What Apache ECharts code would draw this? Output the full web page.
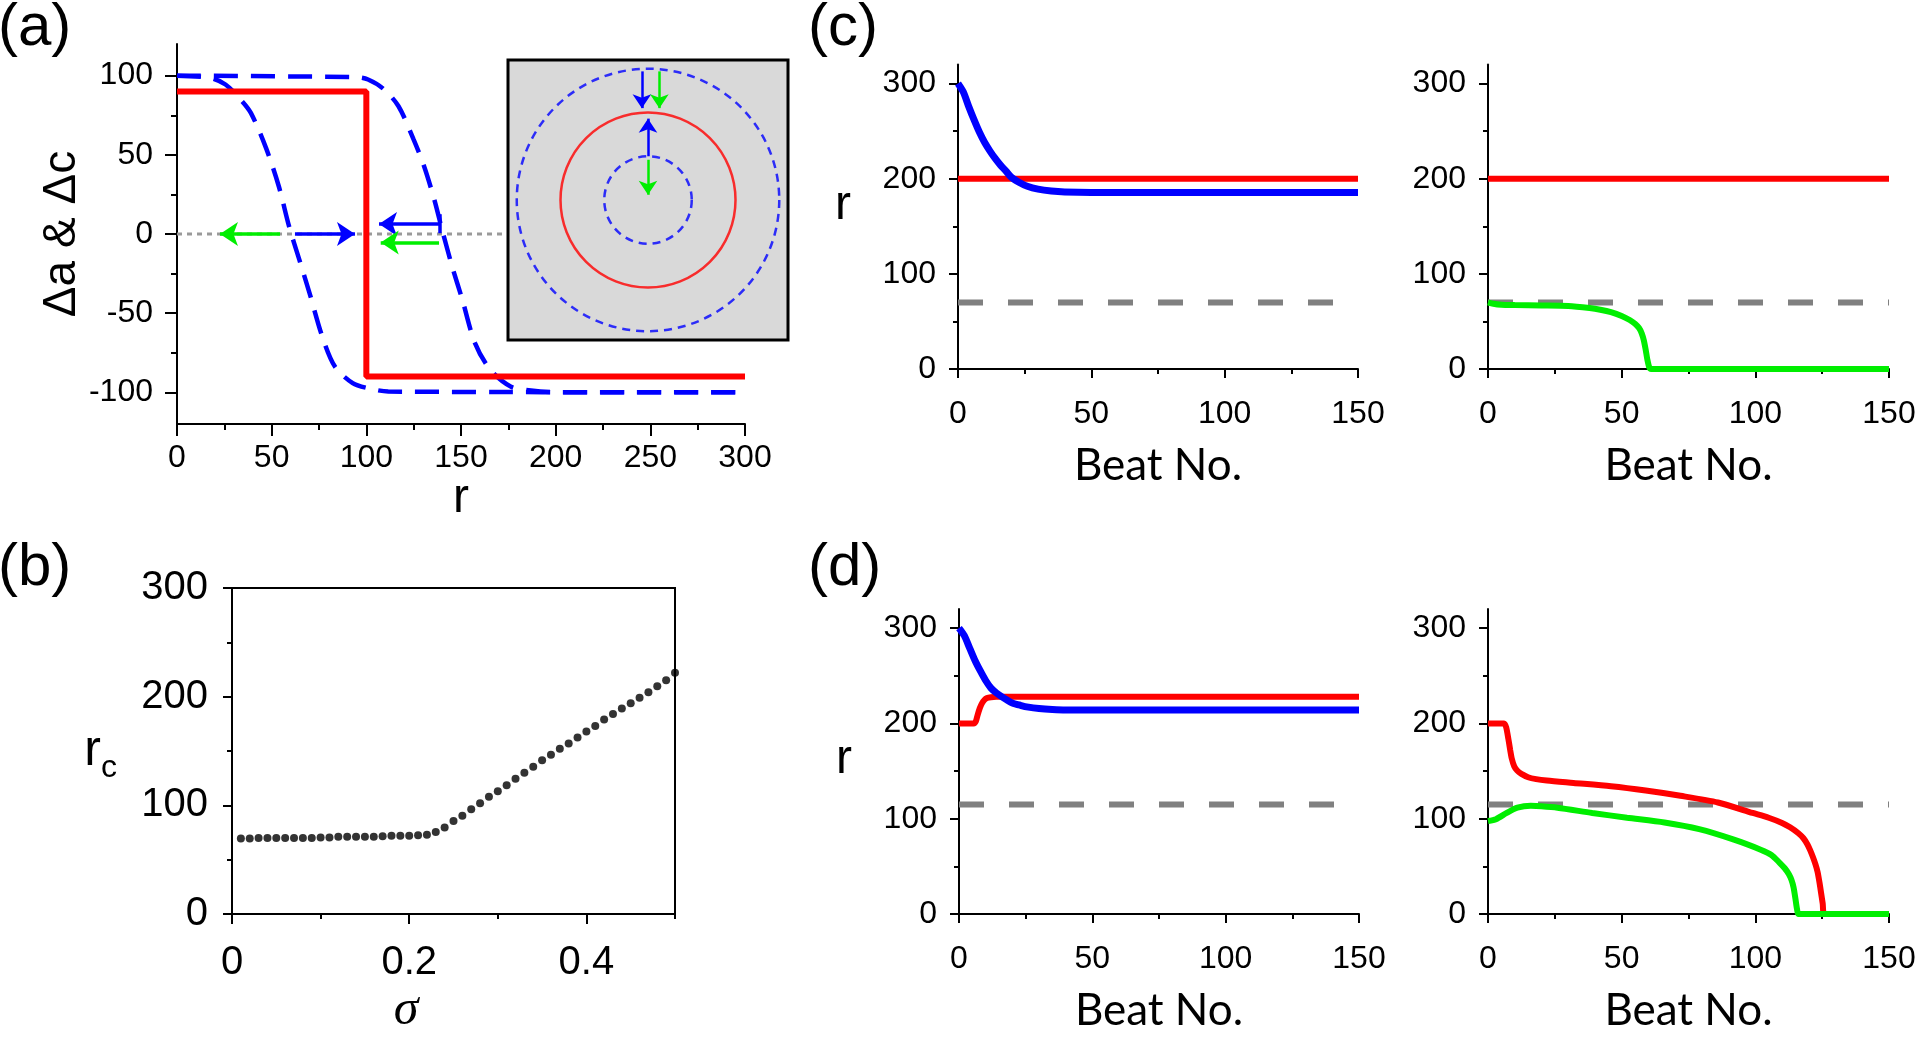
<!DOCTYPE html>
<html><head><meta charset="utf-8">
<script src="https://cdn.jsdelivr.net/npm/echarts@6/dist/echarts.min.js"></script>
<style>html,body{margin:0;padding:0;background:#fff}#c{width:1920px;height:1037px}</style>
</head><body><div id="c"></div>
<script>
// ================= DATA =================
// ---- (a) profiles vs r ----
const aRedR = [0, 100, 100, 300];
const aRedV = [90, 90, -90, -90];
const aInnerR = [0, 17.5, 25.6, 33.6, 39, 47, 53.8, 59.2, 64.6, 70, 76.7, 83.4, 92.8, 100.9, 111.6, 300];
const aInnerV = [100, 98.6, 94.4, 84.9, 76.5, 54.4, 30, 4.8, -16.2, -37.3, -64.7, -83.7, -94.2, -97.4, -99.5, -100];
const aOuterR = [0, 95, 100.9, 109, 117, 125, 130.5, 135.9, 140, 145.3, 150.7, 157.4, 165.5, 176.2, 187, 203, 300];
const aOuterV = [100, 99, 97.6, 91.7, 80.7, 59.6, 42.8, 21.7, 2.7, -20.4, -41.5, -68.9, -85.8, -96.3, -98.8, -100, -100];
const aZeroR = [0, 300];
const aZeroV = [0, 0];
const aXLabels = [0, 50, 100, 150, 200, 250, 300];
const aXMinor = [25, 75, 125, 175, 225, 275];
const aYLabels = [-100, -50, 0, 50, 100];
const aYMinor = [-75, -25, 25, 75];
// arrows on the zero line (start r, end r, level)
const aArrowR0 = [54.4, 62.3, 138.9, 138.4];
const aArrowR1 = [22.7, 94, 106.7, 107.6];
const aArrowV = [0, 0, 6.3, -5.3];
const aArrowKind = ['green', 'blue', 'blue', 'green'];
const aCapR = 138.9;
const aCapV = [0.5, 12.5];
// inset: circle radii (same units as r) and arrows
const insetRadii = [50, 100, 150];
const insetKind = ['blueDash', 'red', 'blueDash'];
const insArrowX = [-7, 13, 0, 0];
const insArrowY0 = [147, 147, 50, 46];
const insArrowY1 = [105, 105, 93, 6];
const insArrowKind = ['blue', 'green', 'blue', 'green'];

// ---- (b) r_c vs sigma ----
const bSigma = [0.01,0.02,0.03,0.04,0.05,0.06,0.07,0.08,0.09,0.10,0.11,0.12,0.13,0.14,0.15,0.16,0.17,0.18,0.19,0.20,0.21,0.22,0.23,0.24,0.25,0.26,0.27,0.28,0.29,0.30,0.31,0.32,0.33,0.34,0.35,0.36,0.37,0.38,0.39,0.40,0.41,0.42,0.43,0.44,0.45,0.46,0.47,0.48,0.49,0.50];
const bRc = [69.5,69.5,70,70,70,70,70,70,70,70.5,70.5,71,71,71,71,71,71.5,72,72,72,72.5,73,75.5,79.5,85.5,90.5,96.5,102,108,113,118.5,124.5,130,135.5,141.5,146.5,152,157,162.5,168,173,179,184,189,194,199,204,209.5,215,222];
const bXLabels = [0, 0.2, 0.4];
const bXMinor = [0.1, 0.3, 0.5];
const bYLabels = [0, 100, 200, 300];
const bYMinor = [50, 150, 250];

// ---- (c) left ----
const cLBeat = [0,2,4,6,8,10,12,14,16,18,20,23,26,30,35,40,50,70,100,150];
const cLBlue = [300,291,276,262,249,238,229,221,214,208,201.5,196,192,189,187,186,185.5,185.5,185.5,185.5];
const cLRedBeat = [0, 150];
const cLRed = [200, 200];
// ---- (c) right ----
const cRRedBeat = [0, 150];
const cRRed = [200, 200];
const cRBeat = [0,2,5,10,20,30,38,42,46,50,53,55,56.5,57.5,58.3,59,59.6,60.3,61,150];
const cRGreen = [70,68.5,67.5,67.2,66.8,66.2,64,62.3,59.8,55.8,51.5,47.5,43,37.5,30,20,10,2,0,0];
const cThresholdBeat = [0, 150];
const cThreshold = [70, 70];

// ---- (d) left ----
const dLBeat = [0,2,4,6,8,10,12,14,16,18,20,23,26,30,35,40,50,70,100,150];
const dLBlue = [300,292,279,266,255,245,237,232,228,224.5,221.5,219,217,215.5,214.5,214,214,214,214,214];
const dLRedBeat = [0,5.5,6.3,7,7.8,8.6,9.5,10.5,12,14,150];
const dLRed = [200,200,202,209,216,221,224.5,226.5,227.5,228,228];
// ---- (d) right ----
const dRRedBeat = [0,6,6.8,7.6,8.3,8.9,9.8,10.9,12.5,15,18,22,32,46,59,72,86,99,105,110,113,116,118,119.5,120.5,121.5,122.5,123.3,124,124.6,125.2,125.8,150];
const dRRed = [200,200,196,184,172,163,155,150.5,147,143.5,141.5,140,137.5,134,129.5,124,117,106,101,95.5,91,85,79.5,73,67,60,52,44,33,22,11,0,0];
const dRGreenBeat = [0,3,7,11,16,20,26,39,52,66,79,92,102,106,109,111,112.5,113.5,114.3,115,115.6,116.2,150];
const dRGreen = [97.5,99.5,106,111.5,113.5,113,111.5,106,101,96,89,78,67.5,62,54,48,42,36,28,16,5,0,0];
const dThresholdBeat = [0, 150];
const dThreshold = [115, 115];

const beatLabels = [0, 50, 100, 150];
const beatMinor = [25, 75, 125];
const rLabels = [0, 100, 200, 300];
const rMinor = [50, 150, 250];

// ================= STYLE / BUILD =================
const FONT = '"Liberation Sans", Arial, Helvetica, sans-serif';
const COLORS = {blue: '#0000ff', red: '#ff0000', green: '#00ee00', gray: '#808080', blueDash: '#0000ff'};
const zip = (xs, ys) => xs.map((x, i) => [x, ys[i]]);

const xAxes = [], yAxes = [];
function addAxis(list, grid, pos, c) {
  const tickStyle = {color: '#000', width: 2};
  list.push({
    type: 'value', gridIndex: grid, position: pos, min: c.min, max: c.max,
    splitLine: {show: false},
    axisLine: {show: true, onZero: false, lineStyle: {color: '#000', width: 2}},
    axisTick: {show: true, customValues: c.ticks, length: c.majLen, lineStyle: tickStyle},
    axisLabel: {show: true, customValues: c.ticks, margin: c.margin, color: '#000', fontSize: c.fontSize, fontFamily: FONT},
    name: c.name, nameLocation: 'middle', nameGap: c.nameGap,
    nameRotate: c.nameRotate, nameTextStyle: c.nameStyle, silent: true
  });
  const idx = list.length - 1;
  if (c.minor) list.push({
    type: 'value', gridIndex: grid, position: pos, min: c.min, max: c.max,
    splitLine: {show: false}, axisLine: {show: false, onZero: false},
    axisTick: {show: true, customValues: c.minor, length: c.minLen, lineStyle: tickStyle},
    axisLabel: {show: false}
  });
  return idx;
}

const grids = [
  {left: 177, top: 44, width: 568, height: 380},                       // 0 (a)
  {left: 508, top: 60, width: 280, height: 280, show: true, backgroundColor: '#d9d9d9',
   borderColor: '#000', borderWidth: 3, z: 2},                           // 1 inset
  {left: 232, top: 588, width: 443, height: 332, show: true, borderColor: '#000', borderWidth: 2}, // 2 (b)
  {left: 958, top: 64.5, width: 400, height: 304.5},                    // 3 (c) L
  {left: 1488, top: 64.5, width: 401, height: 304.5},                   // 4 (c) R
  {left: 959, top: 609, width: 400, height: 305},                       // 5 (d) L
  {left: 1488, top: 609, width: 401, height: 305}                       // 6 (d) R
];

const nameR = {fontSize: 48, fontFamily: FONT, color: '#000'};
const beatName = {fontSize: 44, fontFamily: 'Lato, "Open Sans", sans-serif', color: '#000'};

// (a)
const axA = addAxis(xAxes, 0, 'bottom', {min: 0, max: 300, ticks: aXLabels, minor: aXMinor, majLen: 12, minLen: 6,
  margin: 18, fontSize: 32, name: 'r', nameGap: 42, nameStyle: nameR});
const ayA = addAxis(yAxes, 0, 'left', {min: -120, max: 120, ticks: aYLabels, minor: aYMinor, majLen: 12, minLen: 6,
  margin: 24, fontSize: 32, name: 'Δa & Δc', nameGap: 83, nameStyle: {fontSize: 46, fontFamily: FONT, color: '#000'}});
// inset
xAxes.push({type: 'value', gridIndex: 1, min: -160, max: 160, show: false});
const axIn = xAxes.length - 1;
yAxes.push({type: 'value', gridIndex: 1, min: -160, max: 160, show: false});
const ayIn = yAxes.length - 1;
// (b)
const axB = addAxis(xAxes, 2, 'bottom', {min: 0, max: 0.5, ticks: bXLabels, minor: bXMinor, majLen: 10, minLen: 5,
  margin: 29, fontSize: 40, name: 'σ', nameGap: 72,
  nameStyle: {fontSize: 50, fontStyle: 'italic', fontFamily: '"Liberation Serif", serif', color: '#000', padding: [0, 95, 0, 0]}});
const ayB = addAxis(yAxes, 2, 'left', {min: 0, max: 300, ticks: bYLabels, minor: bYMinor, majLen: 9, minLen: 5,
  margin: 24, fontSize: 40, name: '{r|r}{c|c}', nameGap: 115, nameRotate: 0,
  nameStyle: {color: '#000', rich: {
    r: {fontSize: 50, fontFamily: FONT, lineHeight: 50, verticalAlign: 'top', color: '#000'},
    c: {fontSize: 32, fontFamily: FONT, lineHeight: 40, padding: [34, 0, 0, 0], color: '#000'}}}});
// (c),(d)
function beatPanel(grid, withName, rLift) {
  const xi = addAxis(xAxes, grid, 'bottom', {min: 0, max: 150, ticks: beatLabels, minor: beatMinor, majLen: 9, minLen: 5,
    margin: 29, fontSize: 32, name: 'Beat No.', nameGap: 75, nameStyle: beatName});
  const yi = addAxis(yAxes, grid, 'left', {min: 0, max: 320, ticks: rLabels, minor: rMinor, majLen: 9, minLen: 5,
    margin: 22, fontSize: 32, name: withName ? '{r|r}' : '', nameGap: 107, nameRotate: 0,
    nameStyle: {rich: {r: Object.assign({}, nameR, {lineHeight: 48, padding: [0, 0, rLift, 0]})}}});
  return [xi, yi];
}
const [axCL, ayCL] = beatPanel(3, true, 22);
const [axCR, ayCR] = beatPanel(4, false, 0);
const [axDL, ayDL] = beatPanel(5, true, 4);
const [axDR, ayDR] = beatPanel(6, false, 0);

function line(xi, yi, xs, ys, color, width, extra) {
  return Object.assign({type: 'line', xAxisIndex: xi, yAxisIndex: yi, data: zip(xs, ys), symbol: 'none',
    silent: true, lineStyle: {color: color, width: width}, animation: false}, extra || {});
}
const smooth = {smooth: 0.25};
const thresholdStyle = {lineStyle: {color: COLORS.gray, width: 6, type: [25, 25], cap: 'butt'}};

function arrowItem(p0, p1, kind, size, width) {
  const ls = {color: COLORS[kind], width: width, type: 'solid'};
  return [{coord: p0, symbol: 'none', lineStyle: ls},
          {coord: p1, symbol: 'arrow', symbolSize: size, lineStyle: ls}];
}
const aMarks = aArrowR0.map((r0, i) => arrowItem([r0, aArrowV[i]], [aArrowR1[i], aArrowV[i]], aArrowKind[i], 18, 3.5));
aMarks.push([{coord: [aCapR, aCapV[0]], symbol: 'none', lineStyle: {color: COLORS.blue, width: 3.5, type: 'solid'}},
             {coord: [aCapR, aCapV[1]], symbol: 'none', lineStyle: {color: COLORS.blue, width: 3.5, type: 'solid'}}]);
const insMarks = insArrowX.map((x, i) => arrowItem([x, insArrowY0[i]], [x, insArrowY1[i]], insArrowKind[i], 14, 2.5));

const insetPxPerUnit = grids[1].width / 320;
const insetData = insetRadii.map((r, i) => ({
  value: [0, 0], symbol: 'circle', symbolSize: 2 * r * insetPxPerUnit,
  itemStyle: {color: 'rgba(0,0,0,0)', borderColor: COLORS[insetKind[i]], borderWidth: 2.5,
    borderType: insetKind[i] === 'red' ? 'solid' : [8, 6]}
}));

const series = [
  // (a)
  line(axA, ayA, aZeroR, aZeroV, '#999', 3, {z: 1, lineStyle: {color: '#9a9a9a', width: 3, type: [5, 5]},
    markLine: {silent: true, animation: false, symbol: ['none', 'arrow'], label: {show: false}, data: aMarks}}),
  line(axA, ayA, aInnerR, aInnerV, COLORS.blue, 4.5, {smooth: 0.3, lineStyle: {color: COLORS.blue, width: 4.5, type: [24, 13]}}),
  line(axA, ayA, aOuterR, aOuterV, COLORS.blue, 4.5, {smooth: 0.3, lineStyle: {color: COLORS.blue, width: 4.5, type: [24, 13]}}),
  line(axA, ayA, aRedR, aRedV, COLORS.red, 6),
  // inset
  {type: 'scatter', xAxisIndex: axIn, yAxisIndex: ayIn, data: insetData, silent: true, z: 3, animation: false, clip: false,
   markLine: {silent: true, animation: false, symbol: ['none', 'arrow'], label: {show: false}, data: insMarks, z: 6}},
  // (b)
  {type: 'scatter', xAxisIndex: axB, yAxisIndex: ayB, data: zip(bSigma, bRc), symbolSize: 8,
   itemStyle: {color: '#000'}, silent: true, animation: false},
  // (c) left
  line(axCL, ayCL, cThresholdBeat, cThreshold, COLORS.gray, 6, thresholdStyle),
  line(axCL, ayCL, cLRedBeat, cLRed, COLORS.red, 6),
  line(axCL, ayCL, cLBeat, cLBlue, COLORS.blue, 7, smooth),
  // (c) right
  line(axCR, ayCR, cThresholdBeat, cThreshold, COLORS.gray, 6, thresholdStyle),
  line(axCR, ayCR, cRRedBeat, cRRed, COLORS.red, 6),
  line(axCR, ayCR, cRBeat, cRGreen, COLORS.green, 6, smooth),
  // (d) left
  line(axDL, ayDL, dThresholdBeat, dThreshold, COLORS.gray, 6, thresholdStyle),
  line(axDL, ayDL, dLRedBeat, dLRed, COLORS.red, 6, smooth),
  line(axDL, ayDL, dLBeat, dLBlue, COLORS.blue, 7, smooth),
  // (d) right
  line(axDR, ayDR, dThresholdBeat, dThreshold, COLORS.gray, 6, thresholdStyle),
  line(axDR, ayDR, dRRedBeat, dRRed, COLORS.red, 6, smooth),
  line(axDR, ayDR, dRGreenBeat, dRGreen, COLORS.green, 6, smooth)
];

const panelTitle = (t, left, top) => ({text: t, left: left, top: top, padding: 0,
  textStyle: {fontSize: 60, fontWeight: 'normal', fontFamily: FONT, color: '#000'}});

const chart = echarts.init(document.getElementById('c'), null, {renderer: 'canvas'});
chart.setOption({
  animation: false,
  backgroundColor: '#fff',
  title: [panelTitle('(a)', -2, -2), panelTitle('(b)', -2, 538), panelTitle('(c)', 808, -2), panelTitle('(d)', 808, 538)],
  grid: grids,
  xAxis: xAxes,
  yAxis: yAxes,
  series: series
});
</script></body></html>
